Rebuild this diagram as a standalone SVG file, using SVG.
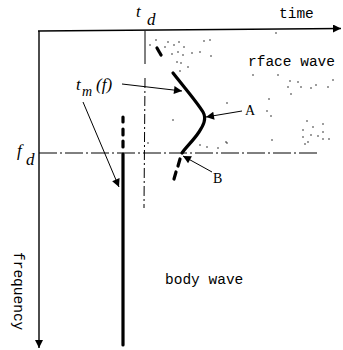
<svg xmlns="http://www.w3.org/2000/svg" width="343" height="350" viewBox="0 0 343 350">
<style>
.axis{stroke:#000;stroke-width:1.4;fill:none}
.thin{stroke:#000;stroke-width:1;fill:none}
.dd{stroke:#000;stroke-width:1;fill:none;stroke-dasharray:10 3 2 3}
.thick{stroke:#000;stroke-width:3.2;fill:none;stroke-linecap:round;stroke-linejoin:round}
.mono{font-family:"Liberation Mono","DejaVu Sans Mono",monospace;font-size:14.5px;fill:#000}
.ital{font-family:"Liberation Serif","DejaVu Serif",serif;font-style:italic;font-size:17px;fill:#000}
.lab{font-family:"Liberation Serif","DejaVu Serif",serif;font-size:14px;fill:#000}
.dots circle{fill:#222}
</style>
<defs>
<marker id="ah" viewBox="0 0 10 10" refX="10" refY="5" markerWidth="10" markerHeight="8" markerUnits="userSpaceOnUse" orient="auto">
<path d="M0,0 L10,5 L0,10 z" fill="#000"/>
</marker>
<marker id="axh" viewBox="0 0 10 10" refX="10" refY="5" markerWidth="12" markerHeight="8" markerUnits="userSpaceOnUse" orient="auto">
<path d="M0,0 L10,5 L0,10 z" fill="#000"/>
</marker>
</defs>

<g id="axes">
<line class="axis" x1="38" y1="31" x2="341" y2="28.5" marker-end="url(#axh)"/>
<line class="axis" x1="39" y1="31" x2="39" y2="348" marker-end="url(#axh)"/>
<text class="mono" x="279" y="18">time</text>
<text class="mono" transform="translate(14,252) rotate(90)">frequency</text>
</g>

<g id="td-line">
<line class="thin" x1="145" y1="31" x2="145" y2="64"/>
<line class="dd" x1="145" y1="78" x2="144" y2="208"/>
<text class="ital" x="136" y="17">t</text>
<text class="ital" x="147" y="25">d</text>
</g>

<g id="fd-line">
<line class="dd" x1="39" y1="153" x2="318" y2="153" style="stroke-dasharray:18 3 2 3"/>
<text class="ital" x="17" y="156">f</text>
<text class="ital" x="26" y="165">d</text>
</g>

<g id="surface-wave">
<text class="mono" x="248" y="66">rface wave</text>
</g>

<g id="body-wave">
<text class="mono" x="165" y="284">body wave</text>
<line class="thick" x1="123" y1="154" x2="123" y2="345"/>
<line class="thick" x1="123" y1="117" x2="123" y2="122"/>
<line class="thick" x1="123" y1="129" x2="123" y2="135"/>
<line class="thick" x1="123" y1="141" x2="123" y2="147"/>
</g>

<g id="curve-A">
<line class="thick" x1="157" y1="48" x2="161" y2="55"/>
<path class="thick" d="M173,73 C184,87 197,102 203,112 C207,119 203,126 199,132 C193,141 186,147 182,153"/>
<line class="thick" x1="180" y1="159" x2="178" y2="166"/>
<line class="thick" x1="176" y1="172" x2="174" y2="179"/>
<text class="lab" x="245" y="115">A</text>
<text class="lab" x="213" y="183">B</text>
</g>

<g id="tmf">
<text class="ital" x="76" y="90">t</text>
<text class="ital" x="82" y="96" style="font-size:14px">m</text>
<text class="ital" x="96" y="90">(f)</text>
</g>

<g id="connectors">
<line class="thin" x1="122" y1="84" x2="182" y2="91" marker-end="url(#ah)"/>
<line class="thin" x1="83" y1="102" x2="119" y2="187" marker-end="url(#ah)"/>
<line class="thin" x1="242" y1="111" x2="206" y2="117" marker-end="url(#ah)"/>
<line class="thin" x1="212" y1="172" x2="183" y2="156" marker-end="url(#ah)"/>
</g>

<g id="speckle" class="dots">
<circle cx="156" cy="40" r="0.8"/><circle cx="150" cy="45" r="0.8"/><circle cx="165" cy="47" r="0.8"/>
<circle cx="168" cy="42" r="0.8"/><circle cx="174" cy="45" r="0.8"/><circle cx="179" cy="42" r="0.8"/>
<circle cx="184" cy="47" r="0.8"/><circle cx="204" cy="41" r="0.8"/><circle cx="210" cy="40" r="0.8"/>
<circle cx="172" cy="54" r="0.8"/><circle cx="178" cy="52" r="0.8"/><circle cx="183" cy="55" r="0.8"/>
<circle cx="192" cy="53" r="0.8"/><circle cx="200" cy="52" r="0.8"/><circle cx="211" cy="56" r="0.8"/>
<circle cx="177" cy="62" r="0.8"/><circle cx="181" cy="63" r="0.8"/><circle cx="188" cy="67" r="0.8"/>
<circle cx="180" cy="71" r="0.8"/><circle cx="276" cy="33" r="0.8"/>
<circle cx="253" cy="75" r="0.8"/><circle cx="278" cy="75" r="0.8"/>
<circle cx="288" cy="87" r="0.8"/><circle cx="290" cy="81" r="0.8"/><circle cx="298" cy="82" r="0.8"/>
<circle cx="301" cy="87" r="0.8"/><circle cx="311" cy="88" r="0.8"/><circle cx="316" cy="85" r="0.8"/>
<circle cx="328" cy="87" r="0.8"/><circle cx="333" cy="80" r="0.8"/><circle cx="291" cy="94" r="0.8"/>
<circle cx="227" cy="103" r="0.8"/><circle cx="269" cy="99" r="0.8"/><circle cx="267" cy="111" r="0.8"/>
<circle cx="271" cy="116" r="0.8"/><circle cx="307" cy="121" r="0.8"/><circle cx="313" cy="127" r="0.8"/>
<circle cx="323" cy="124" r="0.8"/><circle cx="303" cy="130" r="0.8"/><circle cx="311" cy="135" r="0.8"/>
<circle cx="318" cy="136" r="0.8"/><circle cx="323" cy="132" r="0.8"/><circle cx="303" cy="137" r="0.8"/>
<circle cx="308" cy="142" r="0.8"/><circle cx="305" cy="144" r="0.8"/><circle cx="323" cy="139" r="0.8"/>
<circle cx="329" cy="139" r="0.8"/><circle cx="226" cy="142" r="0.8"/><circle cx="272" cy="140" r="0.8"/>
<circle cx="173" cy="120" r="0.8"/><circle cx="148" cy="143" r="0.8"/><circle cx="200" cy="145" r="0.8"/>
<circle cx="207" cy="147" r="0.8"/><circle cx="218" cy="148" r="0.8"/><circle cx="227" cy="143" r="0.8"/>
</g>
</svg>
